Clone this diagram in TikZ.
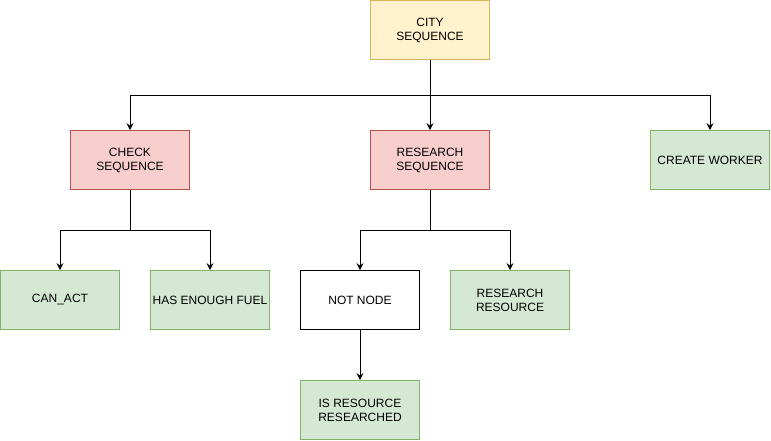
\documentclass[tikz,border=0pt]{standalone}
\usepackage{fontspec}
\setmainfont{Liberation Sans}
\usetikzlibrary{arrows.meta}
\definecolor{yfill}{HTML}{FFF2CC}\definecolor{ydraw}{HTML}{D6B656}
\definecolor{rfill}{HTML}{F8CECC}\definecolor{rdraw}{HTML}{B85450}
\definecolor{gfill}{HTML}{D5E8D4}\definecolor{gdraw}{HTML}{82B366}
\begin{document}
\begin{tikzpicture}[x=1pt,y=-1pt,
  box/.style={draw,minimum width=119pt,minimum height=59pt,inner sep=0pt,align=center,font=\fontsize{12}{14}\selectfont,line width=0.8pt},
  ybox/.style={box,fill=yfill,draw=ydraw},
  rbox/.style={box,fill=rfill,draw=rdraw},
  gbox/.style={box,fill=gfill,draw=gdraw},
  wbox/.style={box,fill=white,draw=black},
  conn/.style={line width=0.9pt,-{Stealth[length=7pt,width=7pt,inset=2.5pt]}}]
\useasboundingbox (0,0) rectangle (771,441);
\node[ybox] (city) at (430,30) {CITY\\SEQUENCE};
\node[rbox] (check) at (130,160) {CHECK\\SEQUENCE};
\node[rbox] (research) at (430,160) {RESEARCH\\SEQUENCE};
\node[gbox] (worker) at (710,160) {CREATE WORKER};
\node[gbox] (canact) at (60,300) {CAN\_ACT};
\node[gbox] (fuel) at (210,300) {HAS ENOUGH FUEL};
\node[wbox] (notnode) at (360,300) {NOT NODE};
\node[gbox] (resres) at (510,300) {RESEARCH\\RESOURCE};
\node[gbox] (isres) at (360,410) {IS RESOURCE\\RESEARCHED};
\coordinate (j1) at (430,95);
\coordinate (j2) at (130,230);
\coordinate (j3) at (430,230);
\draw[line width=0.9pt] (city.south) -- (j1);
\draw[conn] (j1) -| (check.north);
\draw[conn] (j1) -- (research.north);
\draw[conn] (j1) -| (worker.north);
\draw[line width=0.9pt] (check.south) -- (j2);
\draw[conn] (j2) -| (canact.north);
\draw[conn] (j2) -| (fuel.north);
\draw[line width=0.9pt] (research.south) -- (j3);
\draw[conn] (j3) -| (notnode.north);
\draw[conn] (j3) -| (resres.north);
\draw[conn] (notnode.south) -- (isres.north);
\end{tikzpicture}
\end{document}
